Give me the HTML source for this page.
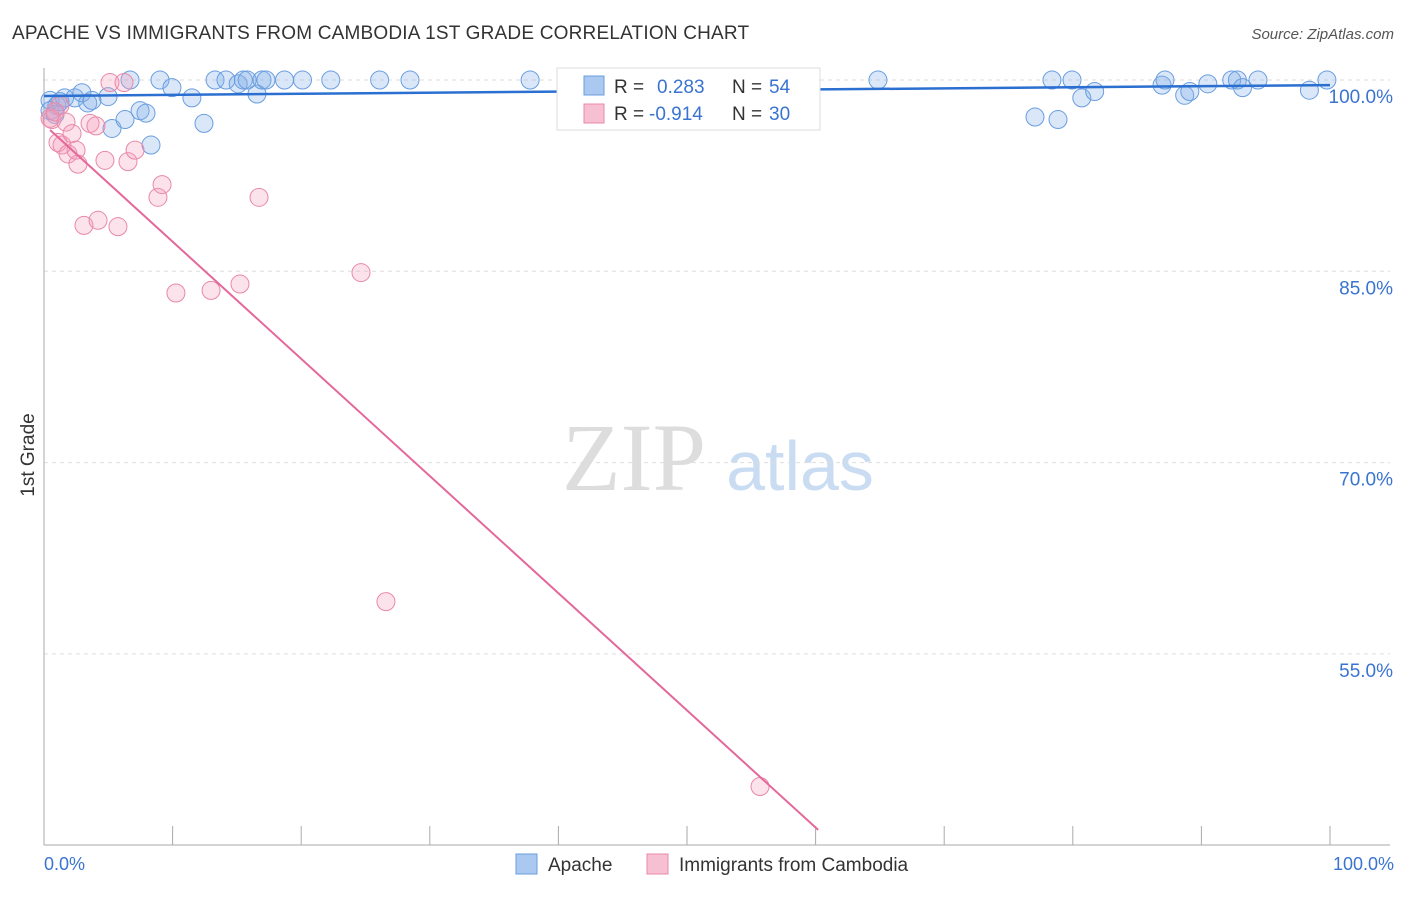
<!DOCTYPE html>
<html><head><meta charset="utf-8"><style>
body{margin:0;background:#fff;font-family:"Liberation Sans",sans-serif}
</style></head><body>
<svg id="chart" width="1406" height="892" xmlns="http://www.w3.org/2000/svg">
<text x="12" y="39" font-size="19" fill="#333" letter-spacing="0.2">APACHE VS IMMIGRANTS FROM CAMBODIA 1ST GRADE CORRELATION CHART</text>
<text x="1394" y="39" font-size="15" fill="#555" font-style="italic" text-anchor="end">Source: ZipAtlas.com</text>
<text x="634" y="490" font-size="96" fill="#ddd" font-family="Liberation Serif,serif" text-anchor="middle">ZIP</text>
<text x="800" y="490" font-size="70" fill="#c9dcf2" text-anchor="middle">atlas</text>
<text transform="translate(34,455) rotate(-90)" font-size="19" fill="#333" text-anchor="middle">1st Grade</text>
<g id="grid"></g><g id="axes"></g><g id="pts"></g><g id="lines"></g>
<g>
<rect x="557" y="68" width="263" height="62" fill="#fff" stroke="#ddd"/>
<rect x="584" y="76" width="20" height="19" fill="#aac8f0" stroke="#6a9ee0"/>
<text x="614" y="93" font-size="19" fill="#333">R = </text><text x="657" y="93" font-size="19" fill="#3a74d0">0.283</text>
<text x="732" y="93" font-size="19" fill="#333">N = </text><text x="769" y="93" font-size="19" fill="#3a74d0">54</text>
<rect x="584" y="104" width="20" height="19" fill="#f7c0d2" stroke="#e889a8"/>
<text x="614" y="120" font-size="19" fill="#333">R = </text><text x="649" y="120" font-size="19" fill="#3a74d0">-0.914</text>
<text x="732" y="120" font-size="19" fill="#333">N = </text><text x="769" y="120" font-size="19" fill="#3a74d0">30</text>
</g>
<g>
<rect x="516" y="854" width="21" height="20" fill="#aac8f0" stroke="#6a9ee0"/>
<text x="548" y="871" font-size="19" fill="#333">Apache</text>
<rect x="647" y="854" width="21" height="20" fill="#f7c0d2" stroke="#e889a8"/>
<text x="679" y="871" font-size="19" fill="#333">Immigrants from Cambodia</text>
</g>
</svg>
<script>
const yTicks=[100,85,70,55];
const yTickLabels=["100.0%","85.0%","70.0%","55.0%"];
const xTickLabels=["0.0%","100.0%"];
const apacheX=[0.47,1.0,1.6,2.4,2.95,3.4,4.98,3.73,5.29,6.3,6.69,7.47,7.93,8.32,9.02,9.95,11.5,12.44,13.3,14.15,15.1,15.5,15.8,16.56,16.95,17.26,18.7,20.1,22.3,26.1,28.46,37.8,42.85,64.85,77.06,78.85,78.38,79.94,80.7,81.7,86.94,87.17,88.7,89.1,90.5,92.36,92.8,93.2,94.4,98.4,99.76,0.47,0.86,1.24];
const apacheY=[98.4,98.0,98.6,98.6,99.0,98.2,98.7,98.4,96.2,96.9,100,97.6,97.4,94.9,100,99.4,98.6,96.6,100,100,99.7,100,100,98.9,100,100,100,100,100,100,100,100,99.8,100,97.1,96.9,100,100,98.6,99.1,99.6,100,98.8,99.1,99.7,100,100,99.4,100,99.2,100,97.6,97.3,98.3];
const cambX=[0.47,0.62,1.24,0.86,1.09,1.4,1.71,1.87,2.18,2.49,2.64,3.11,3.58,4.04,4.2,4.74,5.13,5.75,6.22,6.53,7.08,8.86,9.18,10.26,12.99,15.24,16.72,24.65,26.59,55.68];
const cambY=[97.0,96.9,98.0,97.5,95.1,94.9,96.7,94.2,95.8,94.5,93.4,88.6,96.6,96.4,89.0,93.7,99.8,88.5,99.8,93.6,94.5,90.8,91.8,83.3,83.5,84.0,90.8,84.9,59.1,44.6];
const apacheFit=[[0,98.75],[100,99.6]];
const cambFit=[[0.47,96.08],[60.2,41.2]];
const X=v=>44+v*12.86, Y=v=>80+(100-v)*12.753;
const NS="http://www.w3.org/2000/svg";
function mk(t,a,p){const e=document.createElementNS(NS,t);for(const k in a)e.setAttribute(k,a[k]);document.getElementById(p).appendChild(e);return e;}
yTicks.forEach((t,i)=>{
 const l=mk('line',{x1:44,x2:1390,y1:Y(t),y2:Y(t),stroke:'#ddd','stroke-dasharray':'4,4'},'grid');
 
 
 const tx=mk('text',{x:1393,y:Y(t)+23,'font-size':19,fill:'#3a74d0','text-anchor':'end'},'grid');
 tx.textContent=yTickLabels[i];
 
 
});
const ax=mk('line',{x1:44,x2:44,y1:68,y2:845,stroke:'#aaa'},'axes');


const bx=mk('line',{x1:44,x2:1390,y1:845,y2:845,stroke:'#aaa'},'axes');


for(let i=0;i<=10;i++){const t=mk('line',{x1:X(i*10),x2:X(i*10),y1:826,y2:845,stroke:'#aaa'},'axes');
 
 }
[[0,'start'],[100,'end']].forEach((p,i)=>{const t=mk('text',{x:i?X(100)+64:X(0),y:870,'font-size':18,fill:'#3a74d0','text-anchor':p[1]},'axes');t.textContent=xTickLabels[i];
 
 });
apacheX.forEach((x,i)=>{const c=mk('circle',{cx:X(x),cy:Y(apacheY[i]),r:9,fill:'rgba(130,175,232,0.3)',stroke:'#6a9ee0','stroke-width':1},'pts');
 
 });
cambX.forEach((x,i)=>{const c=mk('circle',{cx:X(x),cy:Y(cambY[i]),r:9,fill:'rgba(245,160,190,0.3)',stroke:'#e889a8','stroke-width':1},'pts');
 
 });
const l1=mk('line',{x1:X(apacheFit[0][0]),y1:Y(apacheFit[0][1]),x2:X(apacheFit[1][0]),y2:Y(apacheFit[1][1]),stroke:'#2b6fd0','stroke-width':2.5},'lines');


const l2=mk('line',{x1:X(cambFit[0][0]),y1:Y(cambFit[0][1]),x2:X(cambFit[1][0]),y2:Y(cambFit[1][1]),stroke:'#e4689a','stroke-width':2},'lines');


</script>
</body></html>
